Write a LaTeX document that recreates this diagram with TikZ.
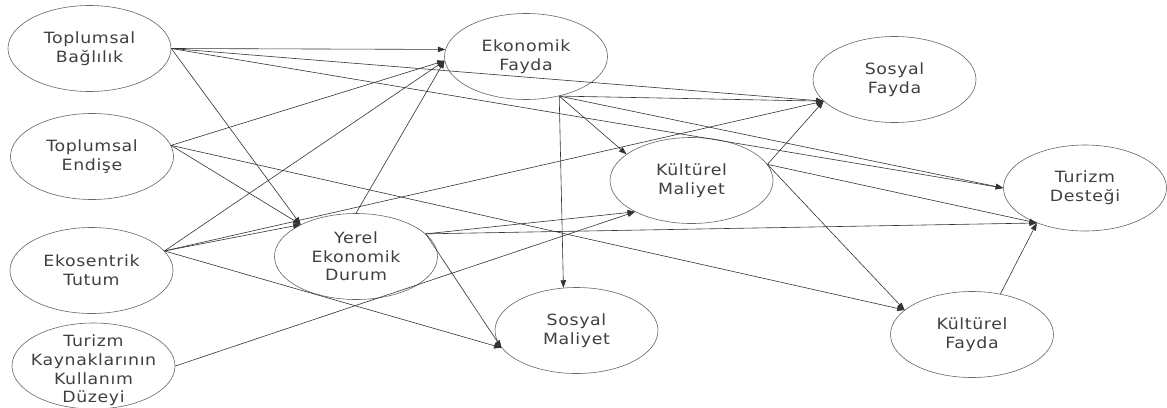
\documentclass[tikz,border=0pt]{standalone}
\usepackage{fontspec}
\newfontfamily\lbl[FakeStretch=1.12,LetterSpace=4]{DejaVu Sans}
\usetikzlibrary{shapes.geometric,arrows.meta}
\tikzset{
  ell/.style={ellipse, draw=black!60, line width=0.6pt, minimum width=163pt,
    minimum height=86pt, inner xsep=-14pt, inner ysep=-12pt, align=center, text=black!75,
    font={\lbl\fontsize{15.5}{18.6}\selectfont}},
  link/.style={draw=black!80, line width=0.6pt, -{Triangle[length=7.5pt,width=5.5pt]}}
}
\begin{document}
\begin{tikzpicture}[x=1pt,y=-1pt]
\useasboundingbox[fill=white] (0,0) rectangle (1167,407);
% nodes
\node[ell] (tb)  at (89.5,48.5)  {Toplumsal\\Bağlılık};
\node[ell] (te)  at (92,156.5)   {Toplumsal\\Endişe};
\node[ell] (et)  at (91.5,270.5) {Ekosentrik\\Tutum};
\node[ell] (tk)  at (93.5,366)   {\raisebox{-5pt}[\height][\depth]{\begin{tabular}{@{}c@{}}Turizm\\Kaynaklarının\\Kullanım\\Düzeyi\end{tabular}}};
\node[ell] (yed) at (356,256.5)  {Yerel\\Ekonomik\\Durum};
\node[ell] (ef)  at (526,56.5)   {Ekonomik\\Fayda};
\node[ell] (km)  at (691.5,180.5){Kültürel\\Maliyet};
\node[ell] (sm)  at (576.5,330.5){Sosyal\\Maliyet};
\node[ell] (sf)  at (894.5,79.5) {Sosyal\\Fayda};
\node[ell] (td)  at (1085,188)   {Turizm\\Desteği};
\node[ell] (kf)  at (972,334.5)  {Kültürel\\Fayda};
% connectors
\draw[link] (tb.east) -- (ef.175);
\draw[link] (tb.east) -- (sf.197);
\draw[link] (tb.east) -- (td.west);
\draw[link] (tb.east) -- (yed.150);
\draw[link] (te.8) -- (ef.183);
\draw[link] (te.8) -- (yed.150);
\draw[link] (te.8) -- (kf.160);
\draw[link] (et.15) -- (ef.183);
\draw[link] (et.15) -- (yed.150);
\draw[link] (et.15) -- (sf.197);
\draw[link] (et.15) -- (sm.193);
\draw[link] (tk.east) -- (km.209);
\draw[link] (yed.north) -- (ef.183);
\draw[link] (yed.18) -- (km.209);
\draw[link] (yed.18) -- (td.216);
\draw[link] (yed.18) -- (sm.193);
\draw[link] (ef.-50) -- (sm.107);
\draw[link] (ef.-50) -- (km.158);
\draw[link] (ef.-50) -- (sf.197);
\draw[link] (ef.-50) -- (td.west);
\draw[link] (km.12) -- (sf.197);
\draw[link] (km.12) -- (td.216);
\draw[link] (km.12) -- (kf.160);
\draw[link] (kf.55) -- (td.216);
\end{tikzpicture}
\end{document}
